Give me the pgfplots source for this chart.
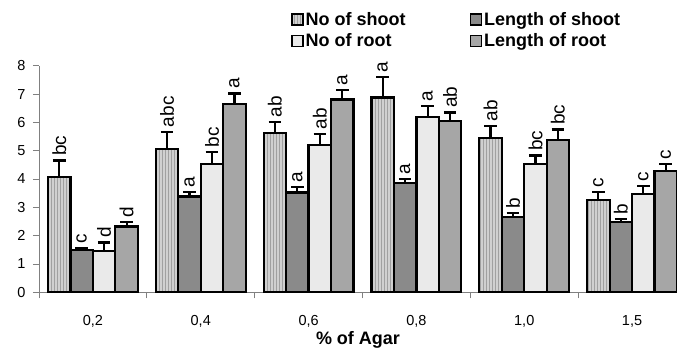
\documentclass[border=0pt]{standalone}
\usepackage{pgfplots}
\pgfplotsset{compat=1.18}
\usepackage{pgfplotstable}
\usetikzlibrary{patterns}
\usepackage{fontspec}
\setmainfont{Liberation Sans}
\definecolor{cNS}{HTML}{D0D0D0}
\definecolor{cNSline}{HTML}{A0A0A0}
\definecolor{cLS}{HTML}{8A8A8A}
\definecolor{cNR}{HTML}{EAEAEA}
\definecolor{cLR}{HTML}{A6A6A6}
\definecolor{axgray}{HTML}{808080}
\pgfplotstableread{
x y err lbl
0 4.07 0.58 bc
1 5.06 0.61 abc
2 5.61 0.41 ab
3 6.88 0.72 a
4 5.46 0.41 ab
5 3.26 0.29 c
}\tNS
\pgfplotstableread{
x y err lbl
0 1.48 0.09 c
1 3.38 0.17 a
2 3.52 0.19 a
3 3.87 0.14 a
4 2.67 0.12 b
5 2.47 0.13 b
}\tLS
\pgfplotstableread{
x y err lbl
0 1.45 0.31 d
1 4.53 0.43 bc
2 5.19 0.40 ab
3 6.20 0.38 a
4 4.53 0.30 bc
5 3.47 0.28 c
}\tNR
\pgfplotstableread{
x y err lbl
0 2.32 0.15 d
1 6.66 0.36 a
2 6.81 0.33 a
3 6.04 0.31 ab
4 5.38 0.37 bc
5 4.28 0.26 c
}\tLR
\begin{document}
\begin{tikzpicture}
\begin{axis}[
  at={(0pt,0pt)}, anchor=south west,
  scale only axis,
  width=638pt, height=226.6pt,
  ybar=0pt, bar width=0.2083,
  xmin=-0.5, xmax=5.4167,
  ymin=0, ymax=8,
  clip=false,
  axis x line*=bottom, axis y line*=left,
  axis line style={axgray, line width=0.8pt},
  tick align=outside,
  major tick length=6pt,
  minor tick length=6pt,
  ytick={0,1,...,8},
  y tick style={axgray, line width=0.8pt},
  xtick={0,1,2,3,4,5},
  xticklabels={{0,2},{0,4},{0,6},{0,8},{1,0},{1,5}},
  major x tick style={draw=none},
  minor xtick={-0.5,0.5,1.5,2.5,3.5,4.5},
  minor x tick style={axgray, line width=0.8pt},
  /pgf/number format/assume math mode=true,
  tick label style={font=\fontsize{14.5}{16}\selectfont},
  yticklabel style={xshift=-4pt},
  xticklabel style={yshift=-14pt},
  xlabel={\textbf{\% of Agar}},
  xlabel style={font=\fontsize{18}{20}\selectfont, yshift=3pt},
  legend columns=2,
  legend cell align=left,
  legend style={at={(0.39,1.255)}, anchor=north west, draw=none, fill=none,
    font=\fontsize{18}{20}\selectfont\bfseries, row sep=3pt,
    /tikz/every even column/.append style={column sep=62pt}},
  legend image code/.code={\draw[#1, line width=1.6pt] (0pt,-5.5pt) rectangle (11pt,5.5pt);},
  every axis plot/.append style={draw=black, line width=2.2pt},
  error bars/y dir=plus, error bars/y explicit,
  error bars/error bar style={line width=2.2pt, black},
  error bars/error mark options={rotate=90, mark size=6.3pt, line width=2.2pt, black},
  nodes near coords,
  point meta=explicit symbolic,
  visualization depends on={\thisrow{err} \as \err},
  every node near coord/.append style={font=\fontsize{19}{21}\selectfont, shift={(axis direction cs:0,\err)}, rotate=90, anchor=west, inner sep=3.5pt, black},
]
\addplot[fill=cNS, postaction={pattern=vertical lines, pattern color=cNSline}] table[x=x, y=y, y error=err, meta=lbl] {\tNS};
\addplot[fill=cLS] table[x=x, y=y, y error=err, meta=lbl] {\tLS};
\addplot[fill=cNR] table[x=x, y=y, y error=err, meta=lbl] {\tNR};
\addplot[fill=cLR] table[x=x, y=y, y error=err, meta=lbl] {\tLR};
\legend{No of shoot, Length of shoot, No of root, Length of root}
\end{axis}
\pgfresetboundingbox
\useasboundingbox (-39pt,-57.7pt) rectangle (638pt,292.3pt);
\end{tikzpicture}
\end{document}
